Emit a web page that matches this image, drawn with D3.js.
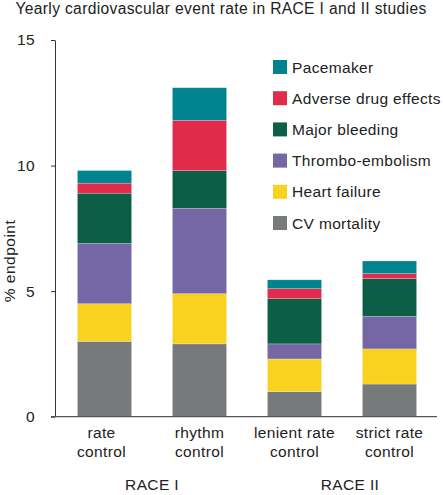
<!DOCTYPE html>
<html><head><meta charset="utf-8">
<script src="https://cdn.jsdelivr.net/npm/d3@7"></script>
<style>body{margin:0;background:#fff}text{font-family:"Liberation Sans",Arial,sans-serif;fill:#222;letter-spacing:0.35px}</style>
</head><body>
<svg id="c" width="443" height="495"></svg>
<script>
const categories = [["rate","control"],["rhythm","control"],["lenient rate","control"],["strict rate","control"]];
const groups = [{name:"RACE I", members:[0,1]},{name:"RACE II", members:[2,3]}];
const seriesNames = ["CV mortality","Heart failure","Thrombo-embolism","Major bleeding","Adverse drug effects","Pacemaker"];
const cvMortality   = [3.0, 2.9, 1.0, 1.3];
const heartFailure  = [1.5, 2.0, 1.3, 1.4];
const thromboEmb    = [2.4, 3.4, 0.6, 1.3];
const majorBleeding = [2.0, 1.5, 1.8, 1.5];
const adverseDrug   = [0.4, 2.0, 0.4, 0.2];
const pacemaker     = [0.5, 1.3, 0.35, 0.5];
const yTicks = [0,5,10,15];
const colors = ["#767a7b","#f9d220","#7566a6","#0c5f46","#e12b4a","#00838f"];

const series = [cvMortality,heartFailure,thromboEmb,majorBleeding,adverseDrug,pacemaker];
const table = categories.map((c,i)=>{const o={i}; seriesNames.forEach((s,k)=>o[s]=series[k][i]); return o;});
const stacked = d3.stack().keys(seriesNames)(table);

const svg = d3.select("#c");
const x = d3.scaleBand().domain(d3.range(categories.length)).range([57,437]).paddingInner(0.43).paddingOuter(0.215);
const y = d3.scaleLinear().domain([0,15]).range([416.7,40]);

svg.append("text").attr("x",221).attr("y",14).attr("text-anchor","middle").style("font-size","15.6px").text("Yearly cardiovascular event rate in RACE I and II studies");

// bars
svg.append("g").selectAll("g").data(stacked).join("g").attr("fill",(d,k)=>colors[k])
  .selectAll("rect").data(d=>d).join("rect")
  .attr("x",d=>x(d.data.i)).attr("width",x.bandwidth())
  .attr("y",d=>y(d[1])).attr("height",d=>y(d[0])-y(d[1]))
  .attr("stroke","rgba(255,255,255,0.35)").attr("stroke-width",0.6);

// y axis
const ya = svg.append("g").attr("transform","translate(55,0)")
  .call(d3.axisLeft(y).tickValues(yTicks).tickSize(4).tickSizeOuter(0).tickPadding(16));
ya.select(".domain").attr("stroke","#333");
ya.selectAll(".tick line").attr("stroke","#333");
ya.selectAll(".tick text").style("font-size","15.5px").attr("fill","#222").attr("font-family","Liberation Sans, Arial, sans-serif");

// x baseline
svg.append("line").attr("x1",51).attr("x2",437).attr("y1",y(0)).attr("y2",y(0)).attr("stroke","#555").attr("stroke-width",1.2);

// y label
svg.append("text").attr("transform","translate(15,"+y(6.2)+") rotate(-90)").attr("text-anchor","middle").style("font-size","15.5px").style("letter-spacing","0.5px").text("% endpoint");

// category labels
const cl = svg.append("g").selectAll("text").data(categories).join("text")
  .attr("text-anchor","middle").style("font-size","15.5px")
  .attr("transform",(d,i)=>"translate("+(x(i)+x.bandwidth()/2 + (i===0?-3:0))+",438)");
cl.selectAll("tspan").data(d=>d).join("tspan").attr("x",0).attr("dy",(d,j)=>j?19:0).text(d=>d);

// group labels
svg.append("g").selectAll("text").data(groups).join("text")
  .attr("text-anchor","middle").style("font-size","15.5px")
  .attr("x",g=>d3.mean(g.members,m=>x(m)+x.bandwidth()/2)+ (g.name==="RACE II"?8:0)).attr("y",490).text(g=>g.name);

// legend
const legOrder = seriesNames.map((s,k)=>k).reverse();
const lg = svg.append("g").selectAll("g").data(legOrder).join("g")
  .attr("transform",(k,j)=>"translate(273,"+(67+j*31.2)+")");
lg.append("rect").attr("x",0).attr("y",-7).attr("width",14).attr("height",14).attr("fill",k=>colors[k]);
lg.append("text").attr("x",19).attr("y",5.5).style("font-size","15.5px").text(k=>seriesNames[k]);
</script>
</body></html>
